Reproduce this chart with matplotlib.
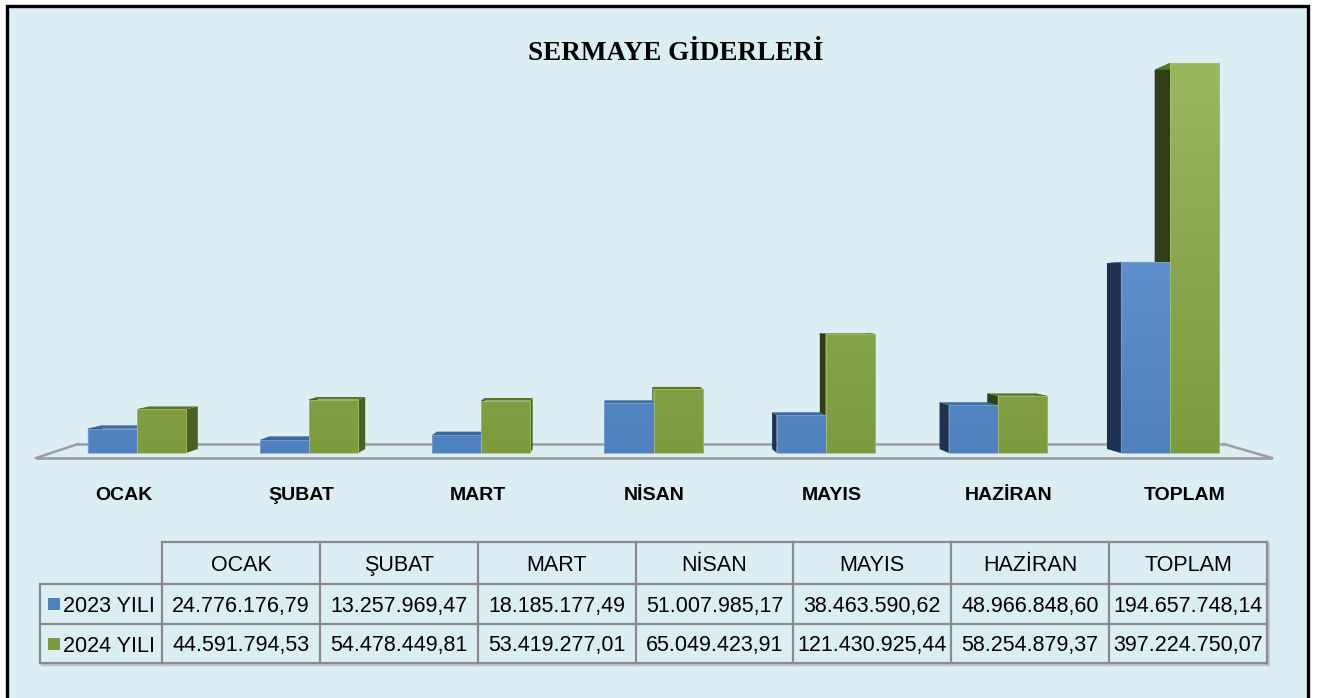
import numpy as np
import matplotlib.pyplot as plt
from matplotlib import font_manager as fm
from matplotlib.patches import Polygon, Rectangle
from matplotlib.colors import to_rgb

categories = ["OCAK", "ŞUBAT", "MART", "NİSAN", "MAYIS", "HAZİRAN", "TOPLAM"]
series = ["2023 YILI", "2024 YILI"]
values_2023 = [24776176.79, 13257969.47, 18185177.49, 51007985.17,
               38463590.62, 48966848.60, 194657748.14]
values_2024 = [44591794.53, 54478449.81, 53419277.01, 65049423.91,
               121430925.44, 58254879.37, 397224750.07]
title = "SERMAYE GİDERLERİ"

W, H = 1322, 698
BG = "#DAEEF3"

# table text is a narrow face in the original; use it if present
installed = {f.name for f in fm.fontManager.ttflist}
if "Liberation Sans Narrow" in installed:
    TFONT = dict(family="Liberation Sans Narrow", fontsize=18)
else:
    TFONT = dict(family="Liberation Sans", fontsize=15.5)

def tr_fmt(v):
    s = f"{v:,.2f}"
    return s.replace(",", "X").replace(".", ",").replace("X", ".")

fig = plt.figure(figsize=(W / 100, H / 100), dpi=100)
fig.patch.set_facecolor("white")

# background / frame / table, pixel coordinates
bg = fig.add_axes([0, 0, 1, 1], zorder=0)
bg.set_xlim(0, W)
bg.set_ylim(H, 0)
bg.axis("off")
bg.add_patch(Rectangle((7, 6), 1301, 760, facecolor=BG, edgecolor="black", lw=2.4))
bg.text(676, 60, title, ha="center", va="baseline", fontsize=19.5,
        fontweight="bold", family="Liberation Serif")

# floor
floor_col = "#9E9E9E"
bg.plot([36, 1272], [458, 458], color=floor_col, lw=2.0, solid_capstyle="butt")
bg.plot([78, 1224], [444, 444], color=floor_col, lw=1.8)
bg.plot([36, 78], [458, 444], color=floor_col, lw=1.8)
bg.plot([1272, 1224], [458, 444], color=floor_col, lw=1.8)

# chart axes in data units (millions)
ax = fig.add_axes([0, 0, 1, 1], zorder=1)
ax.patch.set_alpha(0)
ax.axis("off")
x0_px, step_px, base_px, scale_px = 137, 172.17, 453, 0.9818
xlim = (-x0_px / step_px, (W - x0_px) / step_px)
ylim = ((base_px - H) / scale_px, base_px / scale_px)

v23 = np.array(values_2023) / 1e6
v24 = np.array(values_2024) / 1e6
idx = np.arange(len(categories))

# perspective: back face shrinks toward a vanishing point
vx = (612 - x0_px) / step_px
vy = (base_px - 308) / scale_px
depth = 0.9725

def back(x, y):
    return vx + (x - vx) * depth, vy + (y - vy) * depth

bw = 0.285
styles = [
    dict(vals=v23, off=-bw, c0="#4F81BF", c1="#6E9FDA", left="#1F3350",
         right="#3A5F90", cap="#3C69A0", edge="#7FA5D6"),
    dict(vals=v24, off=0.0, c0="#7D9A3F", c1="#9BB65D", left="#303E18",
         right="#4C6022", cap="#5B7528", edge="#A8C46E"),
]

for st in styles:
    bars = ax.bar(idx + st["off"], st["vals"], width=bw, align="edge",
                  color=st["c0"], lw=0, zorder=4)
    c0 = np.array(to_rgb(st["c0"]))
    c1 = np.array(to_rgb(st["c1"]))
    for rect in bars:
        xa = rect.get_x()
        xb = xa + rect.get_width()
        h = rect.get_height()
        for xs, col in ((xa, st["left"]), (xb, st["right"])):
            pts = [(xs, 0), (xs, h), back(xs, h), back(xs, 0)]
            ax.add_patch(Polygon(pts, closed=True, facecolor=col,
                                 edgecolor="none", zorder=2))
        pts = [(xa, h), (xb, h), back(xb, h), back(xa, h)]
        ax.add_patch(Polygon(pts, closed=True, facecolor=st["cap"],
                             edgecolor="none", zorder=3))
        t = np.linspace(0, h, 64) / 400.0
        grad = c0 + (c1 - c0) * t[:, None]
        im = ax.imshow(grad[:, None, :], extent=[xa, xb, 0, h], origin="lower",
                       aspect="auto", interpolation="bilinear", zorder=4.1)
        im.set_clip_path(rect)
    ax.bar(idx + st["off"], st["vals"], width=bw, align="edge", fill=False,
           edgecolor=st["edge"], lw=0.5, zorder=4.2)

ax.set_xlim(*xlim)
ax.set_ylim(*ylim)

# category labels on the front edge of the floor
for i, name in enumerate(categories):
    ax.text(vx + (i - vx) * 1.027, (base_px - 500) / scale_px, name,
            ha="center", va="baseline", fontsize=14, fontweight="bold",
            family="Liberation Sans")

# data table
cols = [162 + 157.86 * k for k in range(len(categories) + 1)]
rows = [542, 584, 624, 663]
grid = "#8A8A8A"
shadow = "#B9C6CB"
bg.plot([cols[-1] + 2, cols[-1] + 2], [rows[0] + 2, rows[-1] + 2], color=shadow, lw=1.6)
bg.plot([42, cols[-1] + 2], [rows[-1] + 2, rows[-1] + 2], color=shadow, lw=1.6)
bg.plot([cols[0], cols[-1]], [rows[0], rows[0]], color=grid, lw=1.6)
for y in rows[1:]:
    bg.plot([40, cols[-1]], [y, y], color=grid, lw=1.6)
bg.plot([40, 40], [rows[1], rows[-1]], color=grid, lw=1.6)
for x in cols:
    bg.plot([x, x], [rows[0], rows[-1]], color=grid, lw=1.6)

base_off = 8
for k, name in enumerate(categories):
    xc = (cols[k] + cols[k + 1]) / 2
    bg.text(xc, 563 + base_off, name, ha="center", va="baseline", **TFONT)
    bg.text(xc, 604 + base_off, tr_fmt(values_2023[k]), ha="center",
            va="baseline", **TFONT)
    bg.text(xc, 643.5 + base_off, tr_fmt(values_2024[k]), ha="center",
            va="baseline", **TFONT)

for r, (name, st) in enumerate(zip(series, styles)):
    yc = (rows[r + 1] + rows[r + 2]) / 2
    bg.add_patch(Rectangle((48, yc - 6), 12, 12, facecolor=st["c0"], edgecolor="none"))
    bg.text(63, yc + base_off, name, ha="left", va="baseline", **TFONT)

fig.savefig("out.png", dpi=100, facecolor=fig.get_facecolor())
